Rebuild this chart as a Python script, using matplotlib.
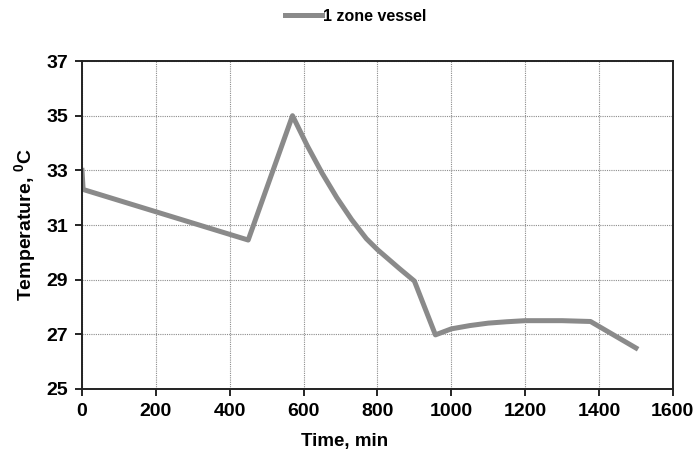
import matplotlib.pyplot as plt

plt.rcParams['font.family'] = ['Liberation Sans', 'DejaVu Sans']
plt.rcParams['font.weight'] = 'bold'
plt.rcParams['mathtext.fontset'] = 'custom'
plt.rcParams['mathtext.rm'] = 'Liberation Sans:bold'
plt.rcParams['mathtext.bf'] = 'Liberation Sans:bold'

time_min = [0, 3, 450, 570, 590, 610, 630, 650, 670, 690, 710, 730, 750, 770,
            800, 830, 860, 900, 957,
            1000, 1050, 1100, 1150, 1200, 1250, 1300, 1377, 1500]
temp_c = [33.0, 32.3, 30.45, 35.0, 34.45, 33.9, 33.4, 32.9, 32.45, 32.0, 31.6, 31.2, 30.85, 30.5,
          30.1, 29.75, 29.4, 28.95, 26.98,
          27.2, 27.32, 27.41, 27.46, 27.5, 27.5, 27.5, 27.47, 26.5]

x_ticks = [0, 200, 400, 600, 800, 1000, 1200, 1400, 1600]
y_ticks = [25, 27, 29, 31, 33, 35, 37]

fig = plt.figure(figsize=(6.98, 4.57), dpi=100)
ax = fig.add_axes([0.1175, 0.1488, 0.8465, 0.7177])

ax.plot(time_min, temp_c, color='#8a8a8a', lw=3.6, solid_joinstyle='round',
        label='1 zone vessel')

ax.set_xlim(0, 1600)
ax.set_ylim(25, 37)
ax.set_xticks(x_ticks)
ax.set_yticks(y_ticks)
ax.grid(True, color='#8c8c8c', lw=0.8, ls=(0, (1, 1)))
ax.tick_params(direction='out', length=5, width=1.2, labelsize=14, pad=5)
for s in ax.spines.values():
    s.set_linewidth(1.4)
    s.set_color('#222222')

ax.set_xlabel('Time, min', fontsize=13.5, fontweight='bold')
ax.xaxis.set_label_coords(0.445, -0.135)
ax.set_ylabel(r'Temperature, $^{0}$C', fontsize=14, fontweight='bold', labelpad=5)

fig.legend(loc='upper center', bbox_to_anchor=(0.51, 1.012), frameon=False,
           handlelength=2.3, handletextpad=0.1, prop={'size': 11.5, 'weight': 'bold'})

fig.savefig('out.png', dpi=100)
